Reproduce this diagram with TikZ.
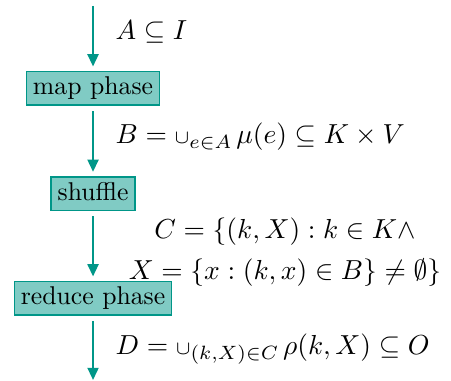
\documentclass[tikz,border=0pt]{standalone}
\usetikzlibrary{arrows.meta}
\definecolor{tealline}{RGB}{0,150,136}
\definecolor{tealfill}{RGB}{128,203,196}
\newcommand{\smallcup}{{\scriptstyle\cup}}
\begin{document}
\begin{tikzpicture}[
  phasebox/.style={draw=tealline, fill=tealfill, line width=0.6pt,
    inner xsep=2.5pt, inner ysep=2pt, text height=7pt, text depth=2pt},
  flow/.style={draw=tealline, line width=1pt, -{Triangle[length=4.8pt,width=4.2pt]},
    shorten <=2pt, shorten >=1.7pt},
  lbl/.style={anchor=base west, inner sep=0pt}
]
\useasboundingbox (0,0) rectangle (175.5pt,-148.25pt);
\coordinate (top) at (36.2pt,-2.3pt);
\node[phasebox] (map) at (36.2pt,-34.4pt) {map phase};
\node[phasebox] (shuffle) at (36.2pt,-75.4pt) {shuffle};
\node[phasebox] (reduce) at (36.2pt,-116.1pt) {reduce phase};
\coordinate (bottom) at (36.2pt,-147.9pt);

\draw[flow, shorten <=0pt] (top) -- (map);
\draw[flow] (map) -- (shuffle);
\draw[flow] (shuffle) -- (reduce);
\draw[flow, shorten >=0pt] (reduce) -- (bottom);

\node[lbl] (la) at (44.8pt,-15.3pt) {\scalebox{1.07}{$A \subseteq I$}};
\node[lbl] (lb) at (44.8pt,-56.0pt) {\scalebox{1.07}{$B = \smallcup_{e\in A}\mkern2.5mu \mu(e) \subseteq K \times V$}};
\node[inner sep=0pt] (lc) at (110.9pt,-98.2pt)
  {\scalebox{1.07}{\begin{tabular}{@{}c@{}}$C = \{(k,X) : k \in K \wedge$\\[2.6pt] $X = \{x : (k,x) \in B\} \neq \emptyset\}$\end{tabular}}};
\node[lbl] (ld) at (44.8pt,-138.1pt) {\scalebox{1.07}{$D = \smallcup_{(k,X)\in C}\mkern2.5mu \rho(k,X) \subseteq O$}};
\end{tikzpicture}
\end{document}
